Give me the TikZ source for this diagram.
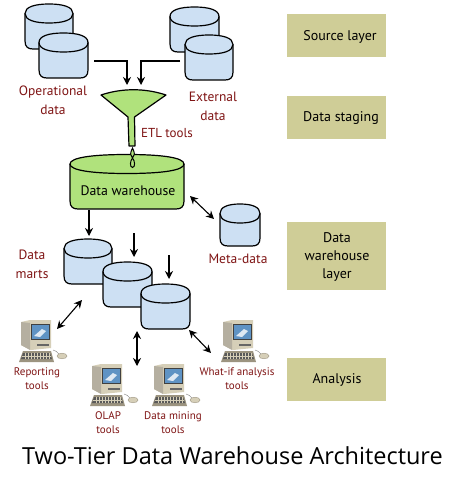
\documentclass[tikz,border=0pt]{standalone}
\usepackage{fontspec}
\setmainfont{PT Sans}
\newfontfamily\titlefont{Open Sans}
\usetikzlibrary{arrows.meta}
\definecolor{dbblue}{HTML}{CDE0F3}
\definecolor{wgreen}{HTML}{B0E27C}
\definecolor{panel}{HTML}{CFCD97}
\definecolor{lbl}{HTML}{7F1414}
\definecolor{beige}{HTML}{D6CFB8}
\definecolor{beigedk}{HTML}{9C9480}
\definecolor{scr}{HTML}{5F93C4}
\tikzset{
  x=1pt,y=-1pt,
  flow/.style={line width=1.1pt,-{Stealth[length=8pt,width=8pt]}},
  both/.style={line width=1.1pt,{Stealth[length=8pt,width=8pt]}-{Stealth[length=8pt,width=8pt]}},
  panelbox/.style={fill=panel,draw=none,minimum width=99pt,inner sep=0pt},
  paneltext/.style={align=center,font=\fontsize{14}{18}\selectfont,inner sep=0pt},
  darklabel/.style={text=lbl,align=center,inner sep=0pt,font=\fontsize{13.5}{19}\selectfont},
  toollabel/.style={text=lbl,align=center,inner sep=0pt,font=\fontsize{11}{14}\selectfont},
}
% #1 left, #2 right, #3 top, #4 bottom, #5 fill
\newcommand{\drum}[5]{%
  \filldraw[line width=1.2pt,fill=#5]
    (#1,#3+9.5) -- (#1,#4-8)
    .. controls (#1,#4-2) and (#1+3,#4) .. (#1+8,#4) -- (#2-8,#4)
    .. controls (#2-3,#4) and (#2,#4-2) .. (#2,#4-8) -- (#2,#3+9.5)
    .. controls (#2,#3+3) and ({#1+(#2-#1)*0.8},#3) .. ({(#1+#2)/2},#3)
    .. controls ({#1+(#2-#1)*0.2},#3) and (#1,#3+3) .. (#1,#3+9.5) -- cycle;
  \draw[line width=1.2pt] (#1,#3+9.5)
    .. controls (#1,#3+16) and ({#1+(#2-#1)*0.2},#3+19) .. ({(#1+#2)/2},#3+19)
    .. controls ({#1+(#2-#1)*0.8},#3+19) and (#2,#3+16) .. (#2,#3+9.5);
}
% computer icon with top-left corner at (#1,#2)
\newcommand{\mac}[2]{%
  \begin{scope}[shift={(#1,#2)}]
    \fill[beige] (1,2) -- (10,0) -- (31,0) -- (31,28) -- (11,30) -- (1,25) -- cycle;
    \fill[beigedk!75] (1,2) -- (10,3) -- (10,30) -- (1,25) -- cycle;
    \fill[black!75] (10.5,4) rectangle (30,20);
    \fill[scr] (11.5,5) rectangle (29,19);
    \fill[white!80!scr] (14,16) -- (22,9) -- (26,11) -- (20,17) -- cycle;
    \fill[black!60] (17,24) rectangle (29,25.5);
    \fill[beigedk] (-1,42) -- (3,31) -- (31,31) -- (34,42) -- cycle;
    \fill[black!65] (3,33) -- (30,33) -- (32,39) -- (1,39) -- cycle;
    \foreach \i in {5,8,...,29} \draw[beige,line width=.5pt] (\i,33) -- (\i,39);
    \draw[beige,line width=.5pt] (2,36) -- (31,36);
    \draw[black!50,line width=.4pt] (33,30) .. controls (35,30) and (37,32) .. (39,34);
    \fill[beige,draw=beigedk,line width=.4pt] (42,36) ellipse (5 and 2.8);
  \end{scope}
}
\begin{document}
\begin{tikzpicture}
\useasboundingbox (0,0) rectangle (469,486);
\fill[white] (0,0) rectangle (469,486);
% panels
\node[panelbox,minimum height=43pt] (src) at (336.5,35.5) {};
\node[paneltext] (srct) at (340,36.5) {Source layer};
\node[panelbox,minimum height=43pt] (stg) at (336.5,117.5) {};
\node[paneltext] (stgt) at (341,118.5) {Data staging};
\node[panelbox,minimum height=68pt] (dwl) at (336.5,256) {};
\node[paneltext] (dwlt) at (337,257) {Data\\warehouse\\layer};
\node[panelbox,minimum height=43pt] (ana) at (336.5,379.5) {};
\node[paneltext] (anat) at (337,380) {Analysis};
% source drums
\drum{25}{73}{4}{49}{dbblue}
\drum{39}{88}{33}{78}{dbblue}
\drum{170}{219}{7}{52}{dbblue}
\drum{185}{233}{35}{80}{dbblue}
\node[darklabel] (opl) at (53,100) {Operational\\data};
\node[darklabel] (exl) at (213,106) {External\\data};
% arrows to funnel
\coordinate (opa) at (94,61); \coordinate (opb) at (127,85);
\coordinate (exa) at (180,61); \coordinate (exb) at (141,85);
\draw[flow] (opa) -| (opb);
\draw[flow] (exa) -| (exb);
% funnel
\filldraw[line width=1.2pt,fill=wgreen,line join=round]
  (101,95) .. controls (122,88) and (145,88) .. (166,95)
  -- (134.5,117) -- (135,146) -- (129,146) -- (128,117) -- cycle;
\node[darklabel,font=\fontsize{13}{15}\selectfont] (etl) at (167,133) {ETL tools};
% warehouse
\drum{70}{184}{154.5}{209}{wgreen}
\node[inner sep=0pt,font=\fontsize{13.8}{16}\selectfont] (dw) at (128,191) {Data warehouse};
% drop
\filldraw[line width=1pt,fill=wgreen]
  (132.5,148) .. controls (135,153) and (135,156) .. (132.5,158)
  .. controls (135,161) and (135.5,167) .. (132.5,167.5)
  .. controls (129.5,167) and (130,161) .. (132.5,158)
  .. controls (130,156) and (130,153) .. (132.5,148) -- cycle;
% meta
\drum{220}{260}{204}{246}{dbblue}
\node[darklabel] (mtl) at (238,259) {Meta-data};
\coordinate (dwe) at (190,196); \coordinate (mte) at (214,219);
\draw[both] (dwe) -- (mte);
% marts
\drum{64}{112}{239}{284}{dbblue}
\drum{103}{152}{262}{307}{dbblue}
\drum{141}{190}{284}{329}{dbblue}
\node[darklabel] (mrl) at (32,264) {Data\\marts};
\coordinate (fa) at (89,210); \coordinate (fb) at (89,236);
\coordinate (ga) at (134,233); \coordinate (gb) at (134,257);
\coordinate (ha) at (169,255); \coordinate (hb) at (169,279);
\draw[flow] (fa) -- (fb);
\draw[flow] (ga) -- (gb);
\draw[flow] (ha) -- (hb);
\coordinate (ra) at (82,300); \coordinate (rb) at (57,329);
\coordinate (oa) at (137,331); \coordinate (ob) at (137,366);
\coordinate (wa) at (189,330); \coordinate (wb) at (211,353);
\draw[both] (ra) -- (rb);
\draw[both] (oa) -- (ob);
\draw[both] (wa) -- (wb);
% computers
\mac{20}{320}
\mac{91}{364}
\mac{153}{364}
\mac{222}{320}
\node[toollabel] (rl) at (37,379) {Reporting\\tools};
\node[toollabel] (ol) at (108,423) {OLAP\\tools};
\node[toollabel] (ml) at (173,423) {Data mining\\tools};
\node[toollabel] (wl) at (237,379) {What-if analysis\\tools};
\node[inner sep=0pt,text=black,font=\titlefont\fontsize{23.5}{27}\selectfont] (title) at (232.5,456) {Two-Tier Data Warehouse Architecture};
\end{tikzpicture}
\end{document}
